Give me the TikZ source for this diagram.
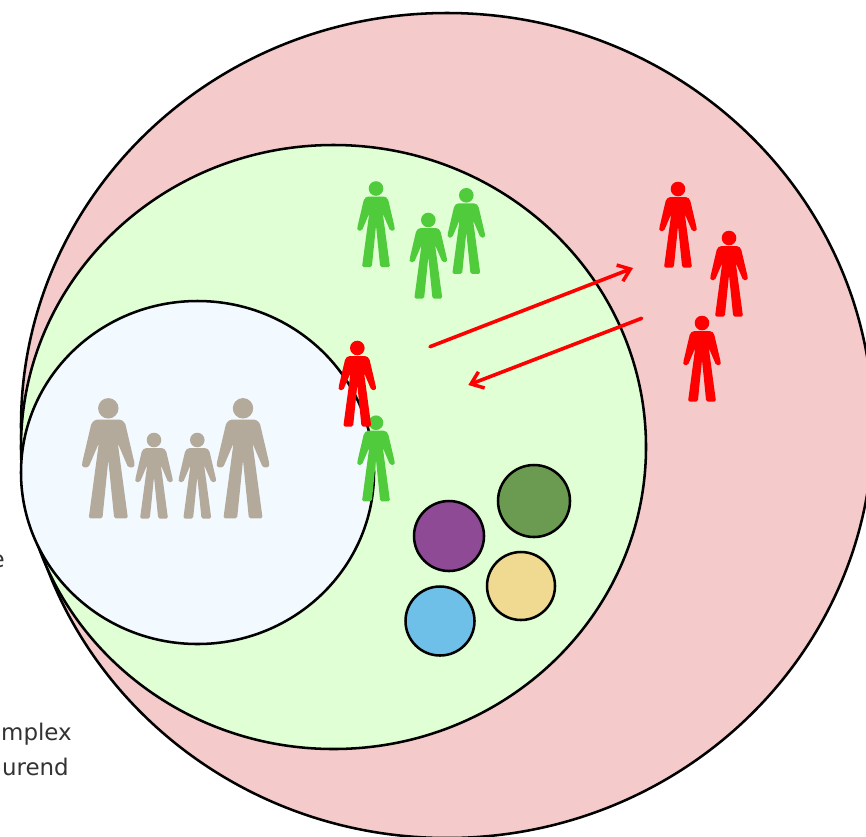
\documentclass[tikz,border=0pt]{standalone}
\usepackage{fontspec}
\setmainfont{DejaVu Sans}
\usetikzlibrary{arrows.meta}
\definecolor{pinkfill}{HTML}{F5CACA}
\definecolor{greenfill}{HTML}{E0FFD5}
\definecolor{bluefill}{HTML}{F3FAFF}
\definecolor{figgreen}{HTML}{4FCB3C}
\definecolor{figred}{HTML}{FF0000}
\definecolor{figgray}{HTML}{B3AA9C}
\definecolor{dotpurple}{HTML}{8E4A94}
\definecolor{dotgreen}{HTML}{6A9B50}
\definecolor{dotyellow}{HTML}{F0DA92}
\definecolor{dotblue}{HTML}{6FC0E8}
\tikzset{
  zone/.style={draw=black,line width=1.9pt},
  dot/.style={draw=black,line width=1.9pt},
  flow/.style={draw=figred,line width=2.7pt,line cap=round,-{Straight Barb[length=8.5pt,width=13pt,line width=2.6pt]}},
  label/.style={font=\fontsize{17.2}{20}\selectfont,text=black!80,inner sep=0pt},
  pics/person/.style={code={
    \fill[#1] (0,0) circle (7.3);
    \fill[#1,rounded corners=1.2pt]
      (0,8) -- (9,8) -- (12,10.5) -- (18.8,39.5) -- (18.5,42.2) -- (14.2,42.2) -- (13,39.5) -- (6.8,25)
      -- (14,78.6) -- (4.2,78.6) -- (0,37) -- (-4.2,78.6) -- (-14,78.6) -- (-6.8,25)
      -- (-13,39.5) -- (-14.2,42.2) -- (-18.5,42.2) -- (-18.8,39.5) -- (-12,10.5) -- (-9,8) -- cycle;
  }}
}
\begin{document}
\begin{tikzpicture}[x=0.75pt,y=-0.75pt]
\useasboundingbox (0,0) rectangle (866,836);
\clip (0,0) rectangle (866,836);
\fill[white] (0,0) rectangle (866,836);
\node[label,anchor=base east] (t1) at (5,567) {e};
\node[label,anchor=base east] (t2) at (72,740) {mplex};
\node[label,anchor=base east] (t3) at (69,775) {urend};
\path[zone,fill=pinkfill] (447,425.5) ellipse [x radius=426,y radius=412.5];
\path[zone,fill=greenfill] (333.5,447) ellipse [x radius=312.5,y radius=302];
\path[zone,fill=bluefill] (197.5,472.5) ellipse [x radius=176.5,y radius=171.5];
\path[dot,fill=dotpurple] (449,536) circle (35);
\path[dot,fill=dotgreen] (534,501) circle (36);
\path[dot,fill=dotyellow] (521,586) circle (34);
\path[dot,fill=dotblue] (440,621) circle (34.5);
\foreach \x/\y in {376/188.5,428.3/220,466.3/195.3,376/422.7}
  \pic at (\x,\y) {person=figgreen};
\foreach \x/\y in {678/189,729/238,702/323,357.3/348}
  \pic at (\x,\y) {person=figred};
\foreach \x/\y in {154/440,197.3/440}
  \pic at (\x,\y) {person=figgray};
\foreach \x/\y in {108.3/408.3,243/408.3}
  \pic[scale=1.4] at (\x,\y) {person=figgray};
\coordinate (outA) at (430,346.7);
\coordinate (outB) at (633,268);
\coordinate (inA) at (641.7,318.3);
\coordinate (inB) at (468.3,385);
\draw[flow] (outA) -- (outB);
\draw[flow] (inA) -- (inB);
\end{tikzpicture}
\end{document}
